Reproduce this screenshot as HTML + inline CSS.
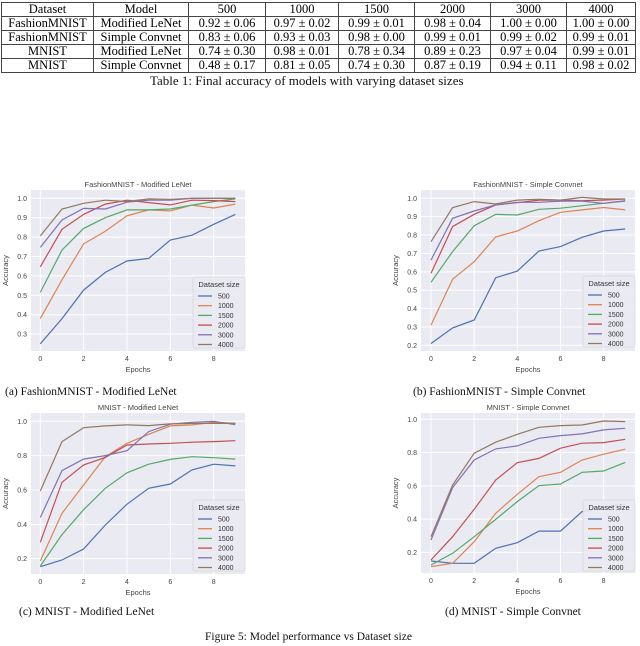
<!DOCTYPE html>
<html><head><meta charset="utf-8">
<style>
body{margin:0;width:640px;height:646px;background:#fff;position:relative;overflow:hidden;font-family:"Liberation Serif",serif;}
table{position:absolute;left:1px;top:2px;border-collapse:collapse;font-size:12.5px;line-height:13px;}
td{border:1px solid #444;text-align:center;padding:0;height:13px;white-space:nowrap;}
.cap{position:absolute;font-size:11.5px;white-space:nowrap;color:#111;}
svg{position:absolute;left:0;top:0;}
</style></head><body>
<table>
<colgroup><col style="width:92px"><col style="width:95px"><col style="width:77px"><col style="width:73px"><col style="width:76px"><col style="width:76px"><col style="width:76px"><col style="width:69px"></colgroup>
<tr><td>Dataset</td><td>Model</td><td>500</td><td>1000</td><td>1500</td><td>2000</td><td>3000</td><td>4000</td></tr>
<tr><td>FashionMNIST</td><td>Modified LeNet</td><td>0.92 ± 0.06</td><td>0.97 ± 0.02</td><td>0.99 ± 0.01</td><td>0.98 ± 0.04</td><td>1.00 ± 0.00</td><td>1.00 ± 0.00</td></tr>
<tr><td>FashionMNIST</td><td>Simple Convnet</td><td>0.83 ± 0.06</td><td>0.93 ± 0.03</td><td>0.98 ± 0.00</td><td>0.99 ± 0.01</td><td>0.99 ± 0.02</td><td>0.99 ± 0.01</td></tr>
<tr><td>MNIST</td><td>Modified LeNet</td><td>0.74 ± 0.30</td><td>0.98 ± 0.01</td><td>0.78 ± 0.34</td><td>0.89 ± 0.23</td><td>0.97 ± 0.04</td><td>0.99 ± 0.01</td></tr>
<tr><td>MNIST</td><td>Simple Convnet</td><td>0.48 ± 0.17</td><td>0.81 ± 0.05</td><td>0.74 ± 0.30</td><td>0.87 ± 0.19</td><td>0.94 ± 0.11</td><td>0.98 ± 0.02</td></tr>
</table>
<div class="cap" style="left:150px;top:73px;font-size:13px;">Table 1: Final accuracy of models with varying dataset sizes</div>
<div class="cap" style="left:5px;top:386px;">(a) FashionMNIST - Modified LeNet</div>
<div class="cap" style="left:413px;top:386px;">(b) FashionMNIST - Simple Convnet</div>
<div class="cap" style="left:19px;top:606px;">(c) MNIST - Modified LeNet</div>
<div class="cap" style="left:445px;top:606px;">(d) MNIST - Simple Convnet</div>
<div class="cap" style="left:205px;top:631px;">Figure 5: Model performance vs Dataset size</div>
<svg id="fig" width="640" height="646"></svg>
<script>
const epochs=[0,1,2,3,4,5,6,7,8,9];
const seriesNames=["500","1000","1500","2000","3000","4000"];
const colors=["#4c72b0","#dd8452","#55a868","#c44e52","#8172b3","#937860"];
const aTicks=[0.3,0.4,0.5,0.6,0.7,0.8,0.9,1.0];
const bTicks=[0.2,0.3,0.4,0.5,0.6,0.7,0.8,0.9,1.0];
const cTicks=[0.2,0.4,0.6,0.8,1.0];
const dTicks=[0.2,0.4,0.6,0.8,1.0];
const xTicks=[0,2,4,6,8];
const a500=[0.25,0.38,0.527,0.618,0.677,0.69,0.785,0.81,0.866,0.917];
const a1000=[0.38,0.58,0.765,0.83,0.91,0.94,0.935,0.965,0.95,0.97];
const a1500=[0.515,0.733,0.845,0.9,0.94,0.94,0.945,0.965,0.983,0.997];
const a2000=[0.647,0.84,0.917,0.97,0.99,0.978,0.966,0.99,0.988,0.983];
const a3000=[0.747,0.888,0.948,0.945,0.98,0.99,0.99,1.0,1.0,1.0];
const a4000=[0.806,0.945,0.974,0.99,0.983,0.997,0.995,1.0,1.0,1.0];
const b500=[0.21,0.295,0.338,0.568,0.604,0.713,0.737,0.788,0.822,0.833];
const b1000=[0.31,0.56,0.655,0.79,0.822,0.878,0.924,0.937,0.95,0.937];
const b1500=[0.543,0.71,0.851,0.913,0.909,0.94,0.946,0.96,0.973,0.985];
const b2000=[0.592,0.846,0.913,0.964,0.976,0.99,0.99,0.987,0.99,0.996];
const b3000=[0.664,0.891,0.931,0.964,0.978,0.978,0.985,0.985,0.973,0.987];
const b4000=[0.764,0.949,0.982,0.969,0.99,0.995,0.99,1.005,0.996,0.996];
const c500=[0.153,0.192,0.256,0.396,0.517,0.61,0.635,0.717,0.75,0.74];
const c1000=[0.186,0.464,0.629,0.794,0.872,0.924,0.973,0.979,0.994,0.988];
const c1500=[0.157,0.34,0.485,0.61,0.7,0.75,0.778,0.794,0.788,0.78];
const c2000=[0.295,0.645,0.746,0.79,0.862,0.868,0.872,0.878,0.882,0.887];
const c3000=[0.44,0.713,0.78,0.8,0.829,0.94,0.983,0.994,1.0,0.98];
const c4000=[0.594,0.882,0.963,0.973,0.979,0.975,0.985,0.988,0.988,0.988];
const d500=[0.148,0.134,0.134,0.224,0.258,0.328,0.328,0.445,0.47,0.49];
const d1000=[0.114,0.134,0.264,0.435,0.549,0.655,0.681,0.755,0.79,0.82];
const d1500=[0.124,0.194,0.294,0.398,0.505,0.601,0.611,0.681,0.689,0.741];
const d2000=[0.154,0.294,0.459,0.635,0.739,0.765,0.826,0.856,0.86,0.88];
const d3000=[0.274,0.589,0.755,0.822,0.84,0.886,0.902,0.912,0.936,0.946];
const d4000=[0.294,0.605,0.796,0.862,0.91,0.952,0.962,0.966,0.99,0.986];

const NS="http://www.w3.org/2000/svg";
const svg=document.getElementById('fig');
function mk(tag,attrs,parent){const e=document.createElementNS(NS,tag);for(const k in attrs)e.setAttribute(k,attrs[k]);(parent||svg).appendChild(e);return e;}

const charts=[
 {id:"a",title:"FashionMNIST - Modified LeNet",L:31,R:245,T:190,B:351,x0:40.3,dx:21.67,y1:198.3,py:194,ticks:aTicks,data:[a500,a1000,a1500,a2000,a3000,a4000],leg:[193,277]},
 {id:"b",title:"FashionMNIST - Simple Convnet",L:421,R:635,T:190,B:351,x0:431,dx:21.58,y1:198.3,py:183.8,ticks:bTicks,data:[b500,b1000,b1500,b2000,b3000,b4000],leg:[583,276]},
 {id:"c",title:"MNIST - Modified LeNet",L:31,R:245,T:413,B:574,x0:40.3,dx:21.67,y1:421.3,py:171.7,ticks:cTicks,data:[c500,c1000,c1500,c2000,c3000,c4000],leg:[193,500]},
 {id:"d",title:"MNIST - Simple Convnet",L:421,R:635,T:413,B:573,x0:431,dx:21.58,y1:419.3,py:166.3,ticks:dTicks,data:[d500,d1000,d1500,d2000,d3000,d4000],leg:[583,500]}
];
charts.forEach(c=>{
 const xs=e=>c.x0+e*c.dx;
 const ys=v=>c.y1+(1-v)*c.py;
 const g=mk('g',{});
 
 
 const bg=mk('rect',{x:c.L,y:c.T,width:c.R-c.L,height:c.B-c.T,fill:'#eaeaf2'},g);
 
 
 xTicks.forEach(t=>{
  const l=mk('line',{x1:xs(t),x2:xs(t),y1:c.T,y2:c.B,stroke:'#fff','stroke-width':1},g);
  
  
  const tx=mk('text',{x:xs(t),y:c.B+10,'font-size':7,fill:'#444','text-anchor':'middle','font-family':'Liberation Sans, sans-serif'},g);
  tx.textContent=t;
  
  
 });
 c.ticks.forEach(t=>{
  const l=mk('line',{x1:c.L,x2:c.R,y1:ys(t),y2:ys(t),stroke:'#fff','stroke-width':1},g);
  
  
  const tx=mk('text',{x:c.L-4,y:ys(t)+2.5,'font-size':7,fill:'#444','text-anchor':'end','font-family':'Liberation Sans, sans-serif'},g);
  tx.textContent=t.toFixed(1);
  
  
 });
 const tt=mk('text',{x:(c.L+c.R)/2,y:c.T-3,'font-size':7.5,fill:'#444','text-anchor':'middle','font-family':'Liberation Sans, sans-serif'},g);
 tt.textContent=c.title;
 
 
 const xl=mk('text',{x:(c.L+c.R)/2,y:c.B+21,'font-size':7.5,fill:'#444','text-anchor':'middle','font-family':'Liberation Sans, sans-serif'},g);
 xl.textContent='Epochs';
 
 
 const yx=c.L-23, yy=(c.T+c.B)/2;
 const yl=mk('text',{x:yx,y:yy,'font-size':7.5,fill:'#444','text-anchor':'middle','font-family':'Liberation Sans, sans-serif',transform:`rotate(-90 ${yx} ${yy})`},g);
 yl.textContent='Accuracy';
 
 
 c.data.forEach((arr,i)=>{
  const pts=arr.map((v,k)=>xs(epochs[k]).toFixed(1)+','+ys(v).toFixed(1)).join(' ');
  const p=mk('polyline',{points:pts,fill:'none',stroke:colors[i],'stroke-width':1.2},g);
  
  
 });
 const [lx,ly]=c.leg;
 const lg=mk('g',{},g);
 
 
 mk('rect',{x:lx,y:ly,width:52,height:71,fill:'#eaeaf2',stroke:'#ccc','stroke-width':0.6,rx:2,opacity:0.9},lg);
 const lt=mk('text',{x:lx+26,y:ly+10,'font-size':7.5,fill:'#333','text-anchor':'middle','font-family':'Liberation Sans, sans-serif'},lg);
 lt.textContent='Dataset size';
 
 
 seriesNames.forEach((n,i)=>{
  const yy2=ly+19+i*9.7;
  const le=mk('g',{},lg);
  
  
  mk('line',{x1:lx+5,x2:lx+19,y1:yy2,y2:yy2,stroke:colors[i],'stroke-width':1.3},le);
  const t=mk('text',{x:lx+25,y:yy2+2.5,'font-size':7,fill:'#333','font-family':'Liberation Sans, sans-serif'},le);
  t.textContent=n;
 });
});
</script>
</body></html>
